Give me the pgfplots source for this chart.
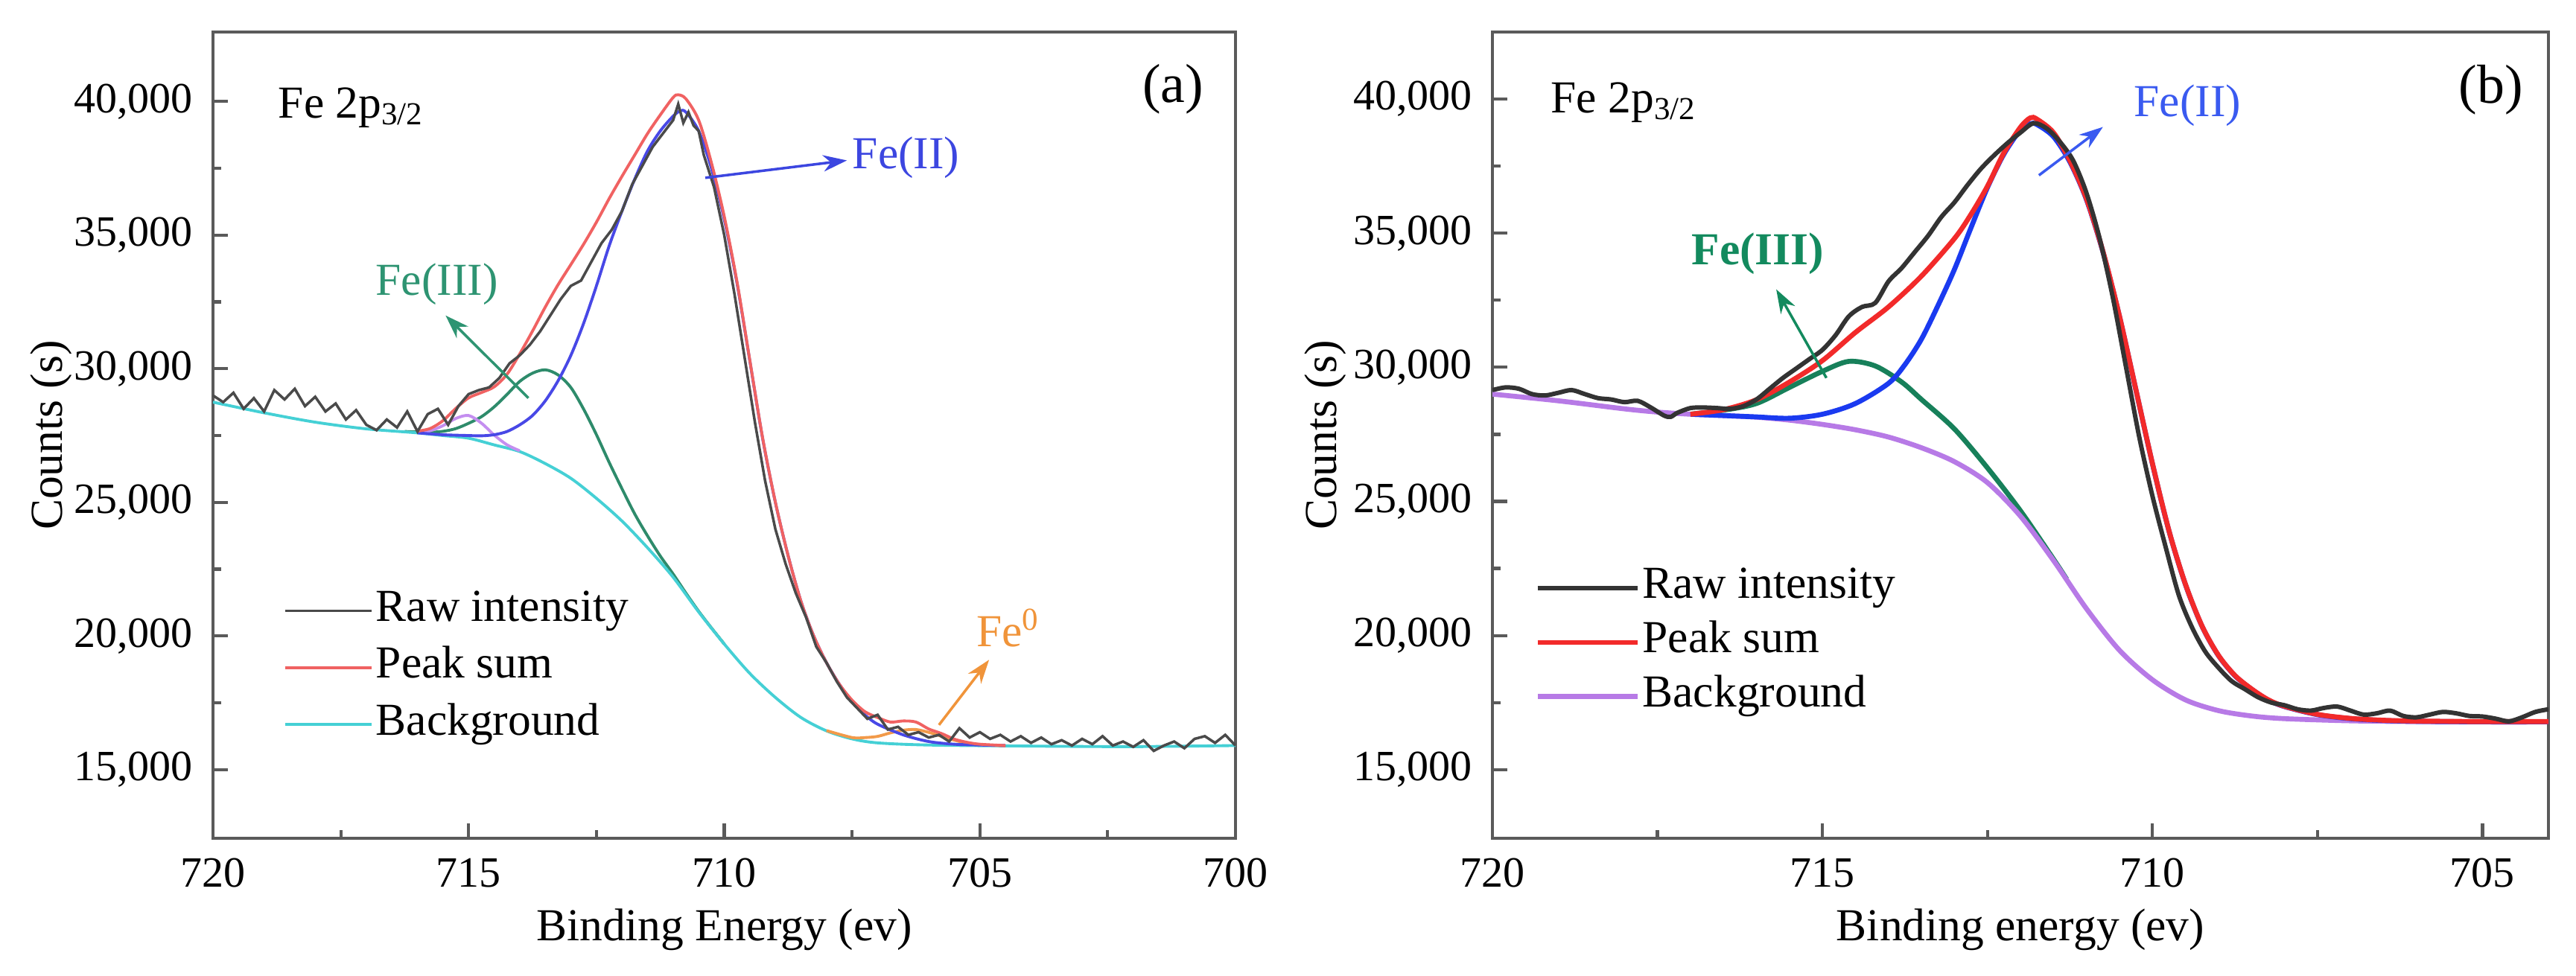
\documentclass[border=0pt]{standalone}
\usepackage{fontspec}
\setmainfont{Liberation Serif}
\usepackage{pgfplots}
\pgfplotsset{compat=1.18}
\usetikzlibrary{arrows.meta}
\definecolor{axgray}{HTML}{5A5A5A}
\definecolor{rawA}{HTML}{4A4A4A}
\definecolor{redA}{HTML}{F06262}
\definecolor{cyanA}{HTML}{45D0D5}
\definecolor{blueA}{HTML}{4848E6}
\definecolor{greenA}{HTML}{2E8B6B}
\definecolor{violetA}{HTML}{C48EF0}
\definecolor{orangeA}{HTML}{F29A4A}
\definecolor{rawB}{HTML}{333333}
\definecolor{redB}{HTML}{F22A2A}
\definecolor{violetB}{HTML}{B77AE6}
\definecolor{blueB}{HTML}{1A3AF0}
\definecolor{greenB}{HTML}{17805A}
\definecolor{txtFeIIa}{HTML}{3C46E0}
\definecolor{txtFeIIIa}{HTML}{2E9472}
\definecolor{txtFe0}{HTML}{F0943A}
\definecolor{txtFeIIIb}{HTML}{138A5E}
\definecolor{txtFeIIb}{HTML}{3A5AF0}
\pgfplotsset{
  myaxis/.style={
    scale only axis,
    height=108.3mm,
    x dir=reverse,
    scaled y ticks=false, scaled x ticks=false,
    axis line style={line width=1.4pt, color=axgray},
    every tick/.style={line width=1.2pt, color=axgray},
    tick align=inside,
    xtick pos=bottom, ytick pos=left,
    major tick length=2mm, minor tick length=1.1mm,
    ytick={15000,20000,25000,30000,35000,40000},
    yticklabels={{15,000},{20,000},{25,000},{30,000},{35,000},{40,000}},
    minor ytick={17500,22500,27500,32500,37500},
    tick label style={font=\fontsize{16.5}{20}\selectfont},
    label style={font=\fontsize{17.5}{21}\selectfont},
    yticklabel style={xshift=-0.6mm},
    xticklabel style={yshift=-0.6mm},
    ylabel={Counts (s)},
    ylabel style={at={(axis description cs:-0.158,0.5)}, anchor=center},
    xlabel style={at={(axis description cs:0.5,-0.113)}, anchor=center},
    reverse legend,
    legend cell align=left,
  }
}
\begin{document}
\fontsize{17.5}{21}\selectfont
\begin{tikzpicture}
\path[use as bounding box] (0,0) rectangle (345.9mm,131mm);
% ---------------- panel (a) ----------------
\begin{axis}[myaxis,
  at={(28.6mm,18.4mm)}, anchor=south west,
  width=137.3mm,
  xmin=700, xmax=720, ymin=12430, ymax=42600,
  xtick={720,715,710,705,700}, xticklabels={720,715,710,705,700},
  minor xtick={717.5,712.5,707.5,702.5},
  xlabel={Binding Energy (ev)},
  legend style={at={(axis description cs:0.069,0.313)}, anchor=north west,
    draw=none, fill=none, inner sep=0pt, row sep=3.1pt,
    nodes={inner sep=1pt, text height=0.7em, text depth=0.25em},
    font=\fontsize{17.5}{21}\selectfont},
  legend image code/.code={\draw[#1] (0mm,0mm) -- (10.2mm,0mm); \path (0mm,0mm) -- (11.6mm,0mm);},
]
\addplot[greenA, line width=1.1pt, smooth, forget plot] coordinates {
(716.25,27653) (716,27633) (715.75,27625) (715.5,27658) (715.25,27760) (715,27958)
(714.75,28203) (714.5,28572) (714.25,29036) (714,29525) (713.75,29834) (713.5,29959)
(713.25,29769) (713,29298) (712.75,28487) (712.5,27533) (712.25,26493) (712,25510)
(711.75,24564) (711.5,23745) (711.25,22989) (711,22319) (710.75,21604) (710.5,20923)
(710.25,20300) (710,19702)};
\addplot[cyanA, line width=1.1pt, smooth] coordinates {
(720,28750) (719,28350) (718,28000) (717,27750) (716,27600) (715.5,27500) (715,27400)
(714.5,27150) (714,26900) (713.5,26450) (713,25900) (712.5,25150) (712,24300)
(711.5,23300) (711,22200) (710.5,20900) (710,19700) (709.5,18600) (709,17700)
(708.5,16950) (708,16450) (707.5,16150) (707,16000) (706,15920) (704,15880)
(702,15860) (700,15900)};
\addlegendentry{Background}
\addplot[violetA, line width=1.1pt, smooth, forget plot] coordinates {
(716,27630) (715.75,27680) (715.5,27870) (715.25,28140) (715,28250) (714.75,27965)
(714.5,27520) (714.25,27155) (714,26930)};
\addplot[orangeA, line width=1.1pt, smooth, forget plot] coordinates {
(708,16460) (707.5,16199) (707.25,16198) (707,16243) (706.75,16374) (706.5,16474)
(706.25,16500) (706,16393) (705.75,16248) (705.5,16100) (705.25,15993) (705,15933)
(704.5,15893)};
\addplot[blueA, line width=1.1pt, smooth, forget plot] coordinates {
(716,27600) (715.5,27530) (715,27500) (714.75,27490) (714.5,27530) (714.25,27650)
(714,27900) (713.75,28250) (713.5,28800) (713.25,29550) (713,30500) (712.75,31700)
(712.5,33100) (712.25,34600) (712,35900) (711.75,37100) (711.5,38150) (711.25,38900)
(711,39450) (710.86,39650) (710.75,39600) (710.5,38900) (710.25,37500) (710,35600)
(709.75,33200) (709.5,30300) (709.25,27400) (709,25000) (708.75,23000) (708.5,21300)
(708.25,20000) (708,19000) (707.75,18200) (707.5,17550) (707.25,17050) (707,16700)
(706.5,16300) (706,16050) (705.5,15950) (705,15920) (704.5,15900)};
\addplot[redA, line width=1.1pt, smooth] coordinates {
(716,27663) (715.75,27765) (715.5,28058) (715.25,28515) (715,28908) (714.75,29108)
(714.5,29322) (714.25,29791) (714,30555) (713.75,31409) (713.5,32309) (713.25,33144)
(713,33898) (712.75,34662) (712.5,35483) (712.25,36368) (712,37200) (711.75,38000)
(711.5,38800) (711.25,39500) (711,40150) (710.9,40250) (710.75,40100) (710.5,39300)
(710.25,37700) (710,35700) (709.75,33250) (709.5,30320) (709.25,27420) (709,25010)
(708.75,23000) (708.5,21300) (708.25,20000) (708,19000) (707.75,18200) (707.5,17600)
(707.25,17170) (707,16950) (706.75,16780) (706.5,16820) (706.25,16780) (706,16520)
(705.75,16350) (705.5,16140) (705.25,16020) (705,15950) (704.5,15900)};
\addlegendentry{Peak sum}
\addplot[rawA, line width=1.0pt] coordinates {
(720.0,29000) (719.8,28750) (719.6,29100) (719.4,28500) (719.2,28900) (719.0,28400)
(718.8,29200) (718.6,28850) (718.4,29250) (718.2,28600) (718.0,28950) (717.8,28400)
(717.6,28700) (717.4,28100) (717.2,28450) (717.0,27900) (716.8,27700) (716.6,28100)
(716.4,27800) (716.2,28400) (716.0,27650) (715.8,28300) (715.6,28500) (715.4,27900)
(715.2,28600) (715.0,29050) (714.8,29200) (714.6,29300) (714.4,29650) (714.2,30200)
(714.0,30500) (713.8,30900) (713.6,31400) (713.4,32000) (713.2,32600) (713.0,33100)
(712.8,33300) (712.6,34000) (712.4,34700) (712.2,35200) (712.0,35900) (711.8,36900)
(711.6,37600) (711.4,38300) (711.2,38800) (711.0,39300) (710.9,39900) (710.8,39200)
(710.7,39600) (710.6,39100) (710.5,38900) (710.4,38000) (710.2,36800) (710.0,35000)
(709.8,32800) (709.6,30400) (709.4,28000) (709.2,25800) (709.0,24000) (708.8,22700)
(708.6,21600) (708.4,20700) (708.2,19600) (708.0,19000) (707.8,18300) (707.6,17700)
(707.4,17300) (707.2,16900) (707.0,17050) (706.8,16500) (706.6,16600) (706.4,16300)
(706.2,16400) (706.0,16200) (705.8,16300) (705.6,16050) (705.4,16550) (705.2,16200)
(705.0,16400) (704.8,16150) (704.6,16300) (704.4,16050) (704.2,16250) (704.0,16000)
(703.8,16200) (703.6,15950) (703.4,16100) (703.2,15900) (703.0,16150) (702.8,15950)
(702.6,16250) (702.4,15900) (702.2,16050) (702.0,15850) (701.8,16100) (701.6,15700)
(701.4,15900) (701.2,16050) (701.0,15800) (700.8,16150) (700.6,16250) (700.4,16000)
(700.2,16300) (700.0,15900)};
\addlegendentry{Raw intensity}
% annotations
\node[anchor=west, inner sep=0pt] at (axis cs:718.73,39770) {Fe 2p\textsubscript{3/2}};
\node[inner sep=0pt, font=\fontsize{21}{24}\selectfont] at (axis cs:701.22,40464) {(a)};
\draw[txtFeIIa, line width=1pt, -{Stealth[length=3.2mm,width=2.2mm]}] (axis cs:710.37,37145) -- (axis cs:707.6,37795);
\node[anchor=west, inner sep=0pt, text=txtFeIIa] at (axis cs:707.5,37900) {Fe(II)};
\draw[txtFeIIIa, line width=1pt, -{Stealth[length=3.2mm,width=2.2mm]}] (axis cs:713.83,28904) -- (axis cs:715.45,31992);
\node[inner sep=0pt, text=txtFeIIIa] at (axis cs:715.62,33152) {Fe(III)};
\draw[txtFe0, line width=1pt, -{Stealth[length=3.2mm,width=2.2mm]}] (axis cs:705.8,16671) -- (axis cs:704.82,19109);
\node[inner sep=0pt, text=txtFe0] at (axis cs:704.45,20300) {Fe\textsuperscript{0}};
\end{axis}
% ---------------- panel (b) ----------------
\begin{axis}[myaxis,
  at={(200.4mm,18.4mm)}, anchor=south west,
  width=141.8mm,
  xmin=704, xmax=720, ymin=12440, ymax=42500,
  xtick={720,715,710,705}, xticklabels={720,715,710,705},
  minor xtick={717.5,712.5,707.5},
  xlabel={Binding energy (ev)},
  legend style={at={(axis description cs:0.040,0.341)}, anchor=north west,
    draw=none, fill=none, inner sep=0pt, row sep=2.1pt,
    nodes={inner sep=1pt, text height=0.7em, text depth=0.25em},
    font=\fontsize{17.5}{21}\selectfont},
  legend image code/.code={\draw[#1] (0mm,0mm) -- (11.2mm,0mm); \path (0mm,0mm) -- (13.4mm,0mm);},
]
\addplot[greenB, line width=1.9pt, smooth, forget plot] coordinates {
(717,28250) (716.5,28400) (716,28650) (715.5,29250) (715,29850) (714.6,30220)
(714.2,30050) (713.8,29450) (713.5,28800) (713,27700) (712.5,26250) (712,24650)
(711.5,22850) (711.3,22100)};
\addplot[violetB, line width=1.9pt, smooth] coordinates {
(720,29000) (719,28750) (718,28450) (717.5,28330) (717,28250) (716.5,28200) (716,28140)
(715.5,28030) (715,27870) (714.5,27670) (714,27400) (713.5,27000) (713,26480)
(712.5,25700) (712,24450) (711.5,22800) (711,21000) (710.5,19450) (710,18350)
(709.5,17600) (709,17200) (708.5,17000) (708,16900) (707,16820) (706,16790)
(705,16780) (704,16780)};
\addlegendentry{Background}
\addplot[blueB, line width=1.9pt, smooth, forget plot] coordinates {
(717,28250) (716.5,28200) (716,28150) (715.5,28100) (715,28250) (714.5,28650)
(714,29400) (713.75,30100) (713.5,31050) (713.25,32300) (713,33650) (712.75,35200)
(712.5,36700) (712.25,37950) (712,38850) (711.85,39080) (711.75,39050) (711.5,38600)
(711.25,37650) (711,36250) (710.75,34300) (710.5,31900) (710.25,29150) (710,26400)
(709.75,23900) (709.5,21900) (709.25,20350) (709,19250) (708.75,18500) (708.5,18000)
(708.25,17600) (708,17350) (707.5,17050) (707,16900) (706.5,16830) (706,16800)
(705.5,16790) (705,16780) (704,16780)};
\addplot[redB, line width=1.9pt, smooth] coordinates {
(717,28250) (716.5,28420) (716,28790) (715.5,29450) (715,30250) (714.5,31300)
(714,32250) (713.5,33400) (713,34800) (712.75,35700) (712.5,36750) (712.25,38000)
(712,38950) (711.85,39300) (711.75,39250) (711.5,38750) (711.25,37700) (711,36280)
(710.75,34320) (710.5,31910) (710.25,29160) (710,26410) (709.75,23910) (709.5,21910)
(709.25,20360) (709,19260) (708.75,18510) (708.5,18010) (708.25,17610) (708,17360)
(707.5,17060) (707,16910) (706.5,16840) (706,16810) (705.5,16800) (705,16790)
(704,16790)};
\addlegendentry{Peak sum}
\addplot[rawB, line width=1.7pt, smooth] coordinates {
(720.0,29150) (719.8,29250) (719.6,29200) (719.4,29000) (719.2,28950) (719.0,29050)
(718.8,29150) (718.6,29000) (718.4,28850) (718.2,28800) (718.0,28700) (717.8,28750)
(717.6,28500) (717.4,28200) (717.3,28150) (717.2,28300) (717.0,28480) (716.8,28500)
(716.6,28480) (716.4,28450) (716.2,28550) (716.0,28800) (715.8,29200) (715.6,29600)
(715.4,29950) (715.2,30300) (715.0,30650) (714.8,31200) (714.6,31900) (714.4,32250)
(714.2,32400) (714.0,33200) (713.8,33700) (713.6,34300) (713.4,34900) (713.2,35600)
(713.0,36150) (712.8,36800) (712.6,37400) (712.4,37900) (712.2,38350) (712.0,38750)
(711.8,39100) (711.6,38900) (711.4,38400) (711.2,37700) (711.0,36500) (710.8,34800)
(710.6,32600) (710.4,30000) (710.2,27400) (710.0,25200) (709.8,23300) (709.6,21500)
(709.4,20300) (709.2,19400) (709.0,18800) (708.8,18300) (708.6,18000) (708.4,17700)
(708.2,17500) (708.0,17400) (707.8,17250) (707.6,17200) (707.4,17300) (707.2,17350)
(707.0,17200) (706.8,17050) (706.6,17100) (706.4,17200) (706.2,17000) (706.0,16950)
(705.8,17050) (705.6,17150) (705.4,17100) (705.2,17000) (705.0,16980) (704.8,16900)
(704.6,16800) (704.4,16950) (704.2,17150) (704.0,17250)};
\addlegendentry{Raw intensity}
\node[anchor=west, inner sep=0pt] at (axis cs:719.12,39885) {Fe 2p\textsubscript{3/2}};
\node[inner sep=0pt, font=\fontsize{21}{24}\selectfont] at (axis cs:704.87,40347) {(b)};
\draw[txtFeIIb, line width=1pt, -{Stealth[length=3.2mm,width=2.2mm]}] (axis cs:711.72,37158) -- (axis cs:710.75,38960);
\node[inner sep=0pt, text=txtFeIIb] at (axis cs:709.47,39769) {Fe(II)};
\draw[txtFeIIIb, line width=1pt, -{Stealth[length=3.2mm,width=2.2mm]}] (axis cs:714.94,29603) -- (axis cs:715.7,32907);
\node[inner sep=0pt, text=txtFeIIIb, font=\fontsize{17.5}{21}\selectfont\bfseries] at (axis cs:715.98,34224) {Fe(III)};
\end{axis}
\end{tikzpicture}
\end{document}
